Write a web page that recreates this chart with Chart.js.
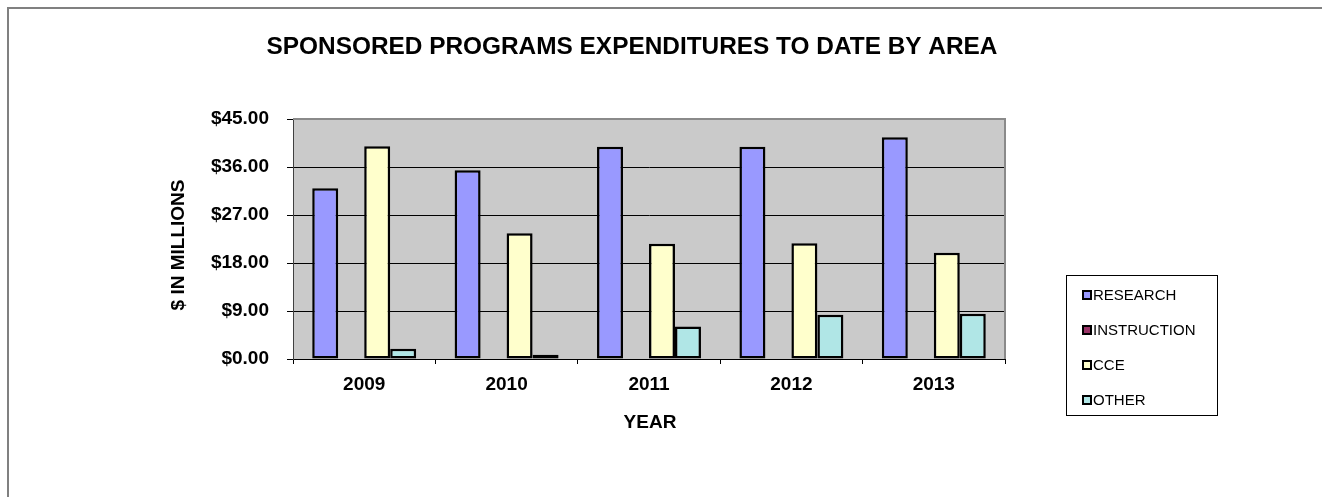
<!DOCTYPE html>
<html>
<head>
<meta charset="utf-8">
<title>Sponsored Programs Expenditures</title>
<script src="https://cdn.jsdelivr.net/npm/chart.js@4/dist/chart.umd.min.js"></script>
<style>
    html, body { margin: 0; padding: 0; background: #ffffff; overflow: hidden; }
    canvas { display: block; }
</style>
</head>
<body>
<canvas id="expChart" width="1322" height="497"></canvas>
<script>
// values ($ millions)
const years = ['2009', '2010', '2011', '2012', '2013'];
const seriesNames = ['RESEARCH', 'INSTRUCTION', 'CCE', 'OTHER'];
const research = [32.0, 35.4, 39.8, 39.8, 41.6];
const instruction = [0, 0, 0, 0, 0];
const cce = [39.9, 23.6, 21.6, 21.7, 19.9];
const other = [1.9, 0.8, 6.1, 8.3, 8.5];
const yTicks = [0, 9, 18, 27, 36, 45];

const seriesColors = ['#9999FF', '#993366', '#FFFFCC', '#B0E6E6'];
const FONT = "'Liberation Sans', Arial, sans-serif";

// plot area box inside the 1322x497 canvas
const PLOT = { left: 293, top: 119, right: 1005, bottom: 359 };

const decorPlugin =
{
    id: 'decor',
    beforeDraw(chart)
    {
        const ctx = chart.ctx;
        const a = chart.chartArea;
        ctx.save();
        ctx.fillStyle = '#ffffff';
        ctx.fillRect(0, 0, chart.width, chart.height);
        ctx.fillStyle = '#CACACA';
        ctx.fillRect(a.left, a.top, a.right - a.left, a.bottom - a.top);
        ctx.restore();
    },
    afterDraw(chart)
    {
        const ctx = chart.ctx;
        const a = chart.chartArea;
        ctx.save();

        // outer frame, cut off at right and bottom like the reference
        ctx.strokeStyle = '#808080';
        ctx.lineWidth = 2;
        ctx.strokeRect(8, 8, 3000, 3000);

        // plot border top / right
        ctx.lineWidth = 2;
        ctx.strokeStyle = '#8a8a8a';
        ctx.beginPath();
        ctx.moveTo(a.left, a.top);
        ctx.lineTo(a.right, a.top);
        ctx.lineTo(a.right, a.bottom);
        ctx.stroke();

        ctx.fillStyle = '#000000';
        ctx.textAlign = 'center';
        ctx.textBaseline = 'middle';

        ctx.font = 'bold 24.4px ' + FONT;
        ctx.fillText('SPONSORED PROGRAMS EXPENDITURES TO DATE BY AREA', 632, 47);

        ctx.font = 'bold 19px ' + FONT;
        ctx.fillText('YEAR', 650, 423);

        ctx.save();
        ctx.translate(179, 245);
        ctx.rotate(-Math.PI / 2);
        ctx.fillText('$ IN MILLIONS', 0, 0);
        ctx.restore();

        // legend
        ctx.strokeStyle = '#000000';
        ctx.lineWidth = 1;
        ctx.strokeRect(1066.5, 275.5, 151, 140);

        const rowY = [295, 330, 365, 400];
        ctx.font = '15px ' + FONT;
        ctx.textAlign = 'left';
        seriesNames.forEach((name, i) =>
        {
            ctx.fillStyle = seriesColors[i];
            ctx.fillRect(1083, rowY[i] - 4, 8, 8);
            ctx.strokeStyle = '#000000';
            ctx.lineWidth = 2;
            ctx.strokeRect(1083, rowY[i] - 4, 8, 8);
            ctx.fillStyle = '#000000';
            ctx.fillText(name, 1093, rowY[i] + 1);
        });

        ctx.restore();
    }
};

const seriesData = [research, instruction, cce, other];

const chart = new Chart(
    document.getElementById('expChart'),
    {
        type: 'bar',
        data:
        {
            labels: years,
            datasets: seriesNames.map((name, i) =>
            ({
                label: name,
                data: seriesData[i],
                backgroundColor: seriesColors[i],
                borderColor: '#000000',
                borderWidth: 2.5,
                borderSkipped: false,
                categoryPercentage: 0.73,
                barPercentage: 1.0
            }))
        },
        options:
        {
            responsive: false,
            devicePixelRatio: 1,
            animation: false,
            layout:
            {
                padding: { left: 0, top: PLOT.top, right: 1322 - PLOT.right, bottom: 0 }
            },
            plugins:
            {
                legend: { display: false },
                title: { display: false },
                tooltip: { enabled: false }
            },
            scales:
            {
                x:
                {
                    afterFit(scale) { scale.height = 497 - PLOT.bottom; },
                    grid:
                    {
                        drawOnChartArea: false,
                        drawTicks: true,
                        tickLength: 5,
                        color: '#000000',
                        offset: true
                    },
                    border: { color: '#000000', width: 1 },
                    ticks:
                    {
                        color: '#000000',
                        padding: 9,
                        font: { family: FONT, size: 19, weight: 'bold' }
                    }
                },
                y:
                {
                    afterFit(scale) { scale.width = PLOT.left; },
                    min: yTicks[0],
                    max: yTicks[yTicks.length - 1],
                    afterBuildTicks(scale) { scale.ticks = yTicks.map(v => ({ value: v })); },
                    grid:
                    {
                        color: '#000000',
                        lineWidth: 1,
                        tickLength: 6
                    },
                    border: { color: '#404040', width: 1 },
                    ticks:
                    {
                        color: '#000000',
                        padding: 18,
                        font: { family: FONT, size: 19, weight: 'bold' },
                        callback: v => '$' + Number(v).toFixed(2)
                    }
                }
            }
        },
        plugins: [decorPlugin]
    }
);
</script>
</body>
</html>
